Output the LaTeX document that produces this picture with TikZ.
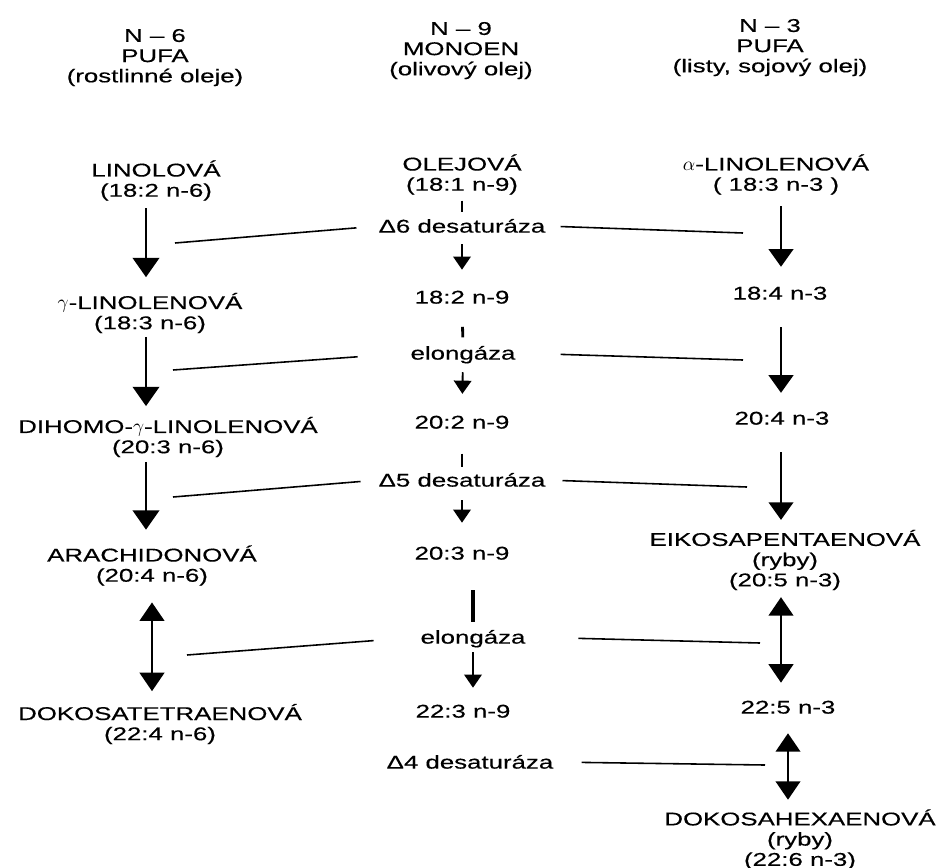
\documentclass[tikz,border=0pt]{standalone}
\usepackage{fontspec}
\setmainfont{Liberation Sans}[FakeStretch=1.4, FakeBold=0.4]
\usetikzlibrary{arrows.meta}

\begin{document}
\begin{tikzpicture}[
  x=0.02cm, y=-0.02cm,
  font=\fontsize{10.5}{11.5}\selectfont,
  inter/.style={align=center, inner sep=0pt, text height=7.5pt, text depth=0pt},
  enz/.style={inter},
  acid/.style={inter, text height=19pt},
  trio/.style={inter, text height=30.5pt},
  hdr/.style={trio},
  flow/.style={-{Triangle[width=15pt, length=11pt]}, line width=1.6pt},
  flowm/.style={-{Triangle[width=10pt, length=7.5pt]}, line width=1.1pt},
  flowr/.style={-{Triangle[width=14pt, length=10pt]}, line width=1.2pt},
  both/.style={{Triangle[width=14pt, length=10.5pt]}-{Triangle[width=14pt, length=10.5pt]},
               line width=1.3pt},
  tick/.style={line width=1.6pt},
  rail/.style={line width=0.9pt},
]
\useasboundingbox (0,0) rectangle (941,867);

% ---- column heads -------------------------------------------------------
\node[hdr] (hn6) at (155, 55.5) {N – 6\\PUFA\\(rostlinné oleje)};
\node[hdr] (hn9) at (461, 48.5) {N – 9\\MONOEN\\(olivový olej)};
\node[hdr] (hn3) at (770, 45.5) {N – 3\\PUFA\\(listy, sojový olej)};

\coordinate (colA) at (146, 0);
\coordinate (colC) at (781, 0);

% ---- n-6 series ---------------------------------------------------------
\node[acid] (lin)   at (156, 180)   {LINOLOVÁ\\(18:2 n-6)};
\node[acid] (glin)  at (150, 312.5) {$\gamma$-LINOLENOVÁ\\(18:3 n-6)};
\node[acid] (dglin) at (168, 436.5) {DIHOMO-$\gamma$-LINOLENOVÁ\\(20:3 n-6)};
\node[acid] (ara)   at (152, 565)   {ARACHIDONOVÁ\\(20:4 n-6)};
\node[acid] (dtet)  at (160, 723.5) {DOKOSATETRAENOVÁ\\(22:4 n-6)};

\draw[flow, shorten <=6.5pt, shorten >=10.4pt] (lin.south -| colA) -- (glin.north -| colA);
\draw[flow, shorten <=4.2pt, shorten >=7.6pt] (glin.south -| colA) -- (dglin.north -| colA);
\draw[flow, shorten <=4.8pt, shorten >=10.4pt] (dglin.south -| colA) -- (ara.north -| colA);
\draw[both, shorten <=11.6pt, shorten >=8.7pt] (ara.south) -- (ara.south |- dtet.north);

% ---- n-9 series ---------------------------------------------------------
\node[acid]  (ole)  at (462, 174) {OLEJOVÁ\\(18:1 n-9)};
\node[inter] (m182) at (462, 297) {18:2 n-9};
\node[inter] (m202) at (462, 422) {20:2 n-9};
\node[inter] (m203) at (462, 553) {20:3 n-9};
\node[inter] (m223) at (463, 711) {22:3 n-9};

% enzymes
\node[enz] (d6)  at (462, 226) {Δ6 desaturáza};
\node[enz] (el1) at (463, 353) {elongáza};
\node[enz] (d5)  at (462, 480) {Δ5 desaturáza};
\node[enz] (el2) at (473, 637) {elongáza};
\node[enz] (d4)  at (470, 762) {Δ4 desaturáza};

\draw[tick, shorten <=5.5pt, shorten >=4pt] (ole.south) -- (d6.north);
\draw[flowm, shorten <=6.5pt, shorten >=11.6pt] (d6.south) -- (m182.north);
\draw[tick, shorten <=13pt, shorten >=5pt] (m182.south) -- (el1.north);
\draw[flowm, shorten <=7pt, shorten >=12.1pt] (el1.south) -- (m202.north);
\draw[tick, shorten <=14pt, shorten >=3.5pt] (m202.south) -- (d5.north);
\draw[flowm, shorten <=7.6pt, shorten >=13.3pt] (d5.south) -- (m203.north);
\draw[tick, line width=1.8pt, shorten <=17.2pt, shorten >=4.8pt] (m203.south -| el2) -- (el2.north);
\draw[flowm, shorten <=4.8pt, shorten >=9.3pt] (el2.south) -- (el2.south |- m223.north);

% ---- n-3 series ---------------------------------------------------------
\node[acid]  (alin) at (776, 174)   {$\alpha$-LINOLENOVÁ\\( 18:3 n-3 )};
\node[inter] (n184) at (780, 293)   {18:4 n-3};
\node[inter] (n204) at (782, 418)   {20:4 n-3};
\node[trio]  (epa)  at (785, 559.5) {EIKOSAPENTAENOVÁ\\(ryby)\\(20:5 n-3)};
\node[inter] (n225) at (788, 707)   {22:5 n-3};
\node[trio]  (dha)  at (800, 839)   {DOKOSAHEXAENOVÁ\\(ryby)\\(22:6 n-3)};

\draw[flowr, shorten <=8.7pt, shorten >=11pt] (alin.south -| colC) -- (n184.north -| colC);
\draw[flowr, shorten <=15.5pt, shorten >=10.4pt] (n184.south -| colC) -- (n204.north -| colC);
\draw[flowr, shorten <=15.5pt, shorten >=7.1pt] (n204.south -| colC) -- (epa.north -| colC);
\draw[both, shorten <=6pt, shorten >=9.9pt] (epa.south -| colC) -- (n225.north -| colC);
\draw[both, shorten <=11pt, shorten >=6.9pt] (n225.south) -- (n225.south |- dha.north);

% ---- enzyme rails -------------------------------------------------------
\coordinate (d6L)  at (175, 243);  \coordinate (d6R)  at (743, 233);
\coordinate (el1L) at (173, 370);  \coordinate (el1R) at (743, 360);
\coordinate (d5L)  at (173, 497);  \coordinate (d5R)  at (747, 487);
\coordinate (el2L) at (187, 655);  \coordinate (el2R) at (760, 643);
\coordinate (d4R)  at (765, 765);

\draw[rail, shorten <=12.5pt] (d6.west)  -- (d6L);
\draw[rail, shorten <=8.5pt]  (d6.east)  -- (d6R);
\draw[rail, shorten <=30pt]   (el1.west) -- (el1L);
\draw[rail, shorten <=25.5pt] (el1.east) -- (el1R);
\draw[rail, shorten <=10.2pt] (d5.west)  -- (d5L);
\draw[rail, shorten <=9.6pt]  (d5.east)  -- (d5R);
\draw[rail, shorten <=26.6pt] (el2.west) -- (el2L);
\draw[rail, shorten <=30pt]   (el2.east) -- (el2R);
\draw[rail, shorten <=15.9pt] (d4.east)  -- (d4R);

\end{tikzpicture}
\end{document}
